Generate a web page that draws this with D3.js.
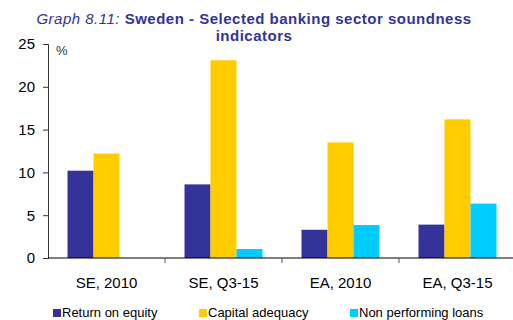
<!DOCTYPE html>
<html>
<head>
<meta charset="utf-8">
<script src="https://cdn.jsdelivr.net/npm/d3@7"></script>
<style>
  body { margin: 0; background: #fff; }
  svg { display: block; }
  text { font-family: "Liberation Sans", Arial, sans-serif; }
</style>
</head>
<body>
<svg width="513" height="320"></svg>
<script>
const categories = ['SE, 2010', 'SE, Q3-15', 'EA, 2010', 'EA, Q3-15']
const seriesNames = ['Return on equity', 'Capital adequacy', 'Non performing loans']
const returnOnEquity = [10.2, 8.6, 3.3, 3.9]
const capitalAdequacy = [12.2, 23.1, 13.5, 16.2]
const nonPerforming = [null, 1.05, 3.85, 6.35]
const yTicks = [0, 5, 10, 15, 20, 25]
const colors = ['#333399', '#ffcc00', '#00ccff']

const svg = d3.select('svg')
const margin = {top: 44, right: 0, bottom: 62, left: 48}
const width = 516
const height = 320 - margin.bottom

const y = d3.scaleLinear().domain([0, 25]).range([height, margin.top])
const x = d3.scaleBand().domain(categories).range([margin.left, width]).paddingInner(0).paddingOuter(0)
const xs = d3.scaleBand().domain(seriesNames).range([0, x.bandwidth()]).paddingOuter(0.75).paddingInner(0)

// title
const title = svg.append('text')
  .attr('x', 254).attr('y', 24)
  .attr('text-anchor', 'middle')
  .attr('fill', '#333399')
  .style('font-size', '15px')
  .style('letter-spacing', '0.5px')
title.append('tspan').style('font-style', 'italic').text('Graph 8.11: ')
title.append('tspan').style('font-weight', 'bold').text('Sweden - Selected banking sector soundness')
svg.append('text')
  .attr('x', 254).attr('y', 41)
  .attr('text-anchor', 'middle')
  .attr('fill', '#333399')
  .style('font-size', '15px')
  .style('letter-spacing', '0.5px')
  .style('font-weight', 'bold')
  .text('indicators')

// bars
const rows = categories.map((c, i) => ({cat: c, vals: [returnOnEquity[i], capitalAdequacy[i], nonPerforming[i]]}))
rows.forEach((r) => {
  r.vals.forEach((v, j) => {
    if (v == null) return
    svg.append('rect')
      .attr('x', x(r.cat) + xs(seriesNames[j]))
      .attr('y', y(v))
      .attr('width', xs.bandwidth())
      .attr('height', y(0) - y(v))
      .attr('fill', colors[j])
  })
})

// y axis
const yAxis = svg.append('g')
  .attr('transform', `translate(${margin.left},0)`)
  .call(d3.axisLeft(y).tickValues(yTicks).tickSize(5).tickPadding(8))
yAxis.select('.domain').attr('stroke', '#333')
yAxis.selectAll('line').attr('stroke', '#333')
yAxis.selectAll('text').style('font-size', '15px').attr('fill', '#000')

svg.append('text')
  .attr('x', 56).attr('y', 55)
  .style('font-size', '13px')
  .attr('fill', '#333')
  .text('%')

// x axis
const xAxis = svg.append('g')
  .attr('transform', `translate(0,${height})`)
xAxis.append('line')
  .attr('x1', margin.left).attr('x2', 513)
  .attr('stroke', '#000').attr('stroke-width', 1.2)
categories.slice(1).forEach((c) => {
  xAxis.append('line')
    .attr('x1', x(c)).attr('x2', x(c))
    .attr('y1', 0).attr('y2', 5)
    .attr('stroke', '#555')
})
categories.forEach((c) => {
  xAxis.append('text')
    .attr('x', x(c) + x.bandwidth() / 2)
    .attr('y', 30)
    .attr('text-anchor', 'middle')
    .style('font-size', '15px')
    .attr('fill', '#000')
    .text(c)
})

// legend
const legendX = [53, 199, 350]
seriesNames.forEach((s, i) => {
  svg.append('rect')
    .attr('x', legendX[i]).attr('y', 309)
    .attr('width', 8).attr('height', 8)
    .attr('fill', colors[i])
  svg.append('text')
    .attr('x', legendX[i] + 9).attr('y', 317)
    .style('font-size', '13px')
    .attr('fill', '#000')
    .text(s)
})
</script>
</body>
</html>
